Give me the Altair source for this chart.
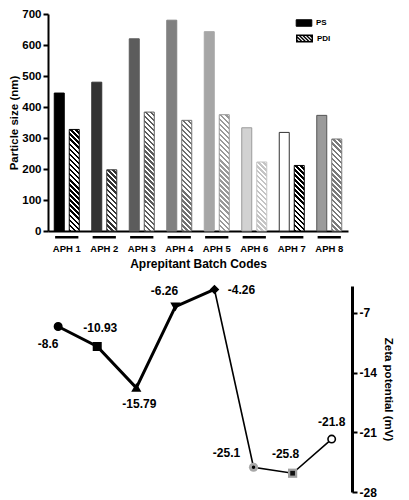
import altair as alt
import pandas as pd

# ---------------- data ----------------
batches = ["APH 1", "APH 2", "APH 3", "APH 4", "APH 5", "APH 6", "APH 7", "APH 8"]
particle_size = [445, 480, 620, 680, 643, 333, 318, 373]
pdi_values = [0.234, 0.141, 0.274, 0.255, 0.268, 0.159, 0.151, 0.212]
zeta_values = [-8.6, -10.93, -15.79, -6.26, -4.26, -25.1, -25.8, -21.8]
series_names = ["PS", "PDI"]

# ---------------- styles ----------------
ps_fill = ["#000000", "#333333", "#5c5c5c", "#808080", "#a6a6a6", "#d2d2d2", "#ffffff", "#9a9a9a"]
ps_stroke = ["#000000", "#333333", "#5c5c5c", "#808080", "#a6a6a6", "#9a9a9a", "#333333", "#555555"]
pdi_ink = ["#000000", "#333333", "#5c5c5c", "#707070", "#999999", "#c4c4c4", "#000000", "#7a7a7a"]

FONT = "Liberation Sans"
TOP_W, TOP_H = 300, 217
BOT_W, BOT_H = 304, 206
BAR_W = 10.0


def hatch(color, w, h, period=5.0):
    """Diagonal '\\' stripes as a linear gradient in bounding-box units."""
    k = (w + h) / (w * w + h * h)
    n = max(2, int(round((w + h) / period)))
    stops = []
    for i in range(n):
        a, b, c = i / n, (i + 0.5) / n, (i + 1) / n
        stops += [
            alt.GradientStop(offset=round(a, 5), color=color),
            alt.GradientStop(offset=round(b, 5), color=color),
            alt.GradientStop(offset=round(b, 5), color="white"),
            alt.GradientStop(offset=round(c, 5), color="white"),
        ]
    return alt.LinearGradient(gradient="linear", x1=0, y1=1,
                              x2=round(k * w, 5), y2=round(1 - k * h, 5), stops=stops)


def hatch_symbol(half_w=1.2, half_h=0.5, step=0.55):
    """Rectangle outline with '\\' diagonal strokes, as a legend symbol path."""
    parts = [f"M{-half_w},{-half_h}H{half_w}V{half_h}H{-half_w}Z"]
    c = -half_w - half_h + step / 2
    while c < half_w + half_h:
        x_a, x_b = c - half_h, c + half_h
        y_a, y_b = -half_h, half_h
        if x_a < -half_w:
            y_a += (-half_w - x_a)
            x_a = -half_w
        if x_b > half_w:
            y_b -= (x_b - half_w)
            x_b = half_w
        if y_b > y_a:
            parts.append(f"M{x_a:.3f},{y_a:.3f}L{x_b:.3f},{y_b:.3f}")
        c += step
    return "".join(parts)


df = pd.DataFrame({"batch": batches, "ps": particle_size, "pdi": pdi_values,
                   "zeta": zeta_values, "idx": list(range(1, len(batches) + 1))})

x_enc = alt.X("batch:N", sort=batches,
              scale=alt.Scale(paddingInner=0, paddingOuter=0),
              axis=alt.Axis(title="Aprepitant Batch Codes", labelAngle=0, ticks=False,
                            labelPadding=12, labelFont=FONT, labelFontSize=9.5,
                            labelFontWeight="bold", titleFont=FONT, titleFontSize=12,
                            titleFontWeight="bold", titlePadding=6, domainWidth=2,
                            domainColor="black", labelColor="black"))
xoff = alt.XOffset("series:N", scale=alt.Scale(domain=series_names,
                                                paddingInner=1 / 3, paddingOuter=5 / 12))

ps_layer = alt.Chart(df).mark_bar(strokeWidth=1).transform_calculate(series='"PS"').encode(
    x=x_enc, xOffset=xoff,
    y=alt.Y("ps:Q", scale=alt.Scale(domain=[0, 700], nice=False),
            axis=alt.Axis(title="Particle size (nm)", values=list(range(0, 701, 100)),
                          grid=False, tickSize=5, tickWidth=2, domainWidth=2,
                          domainColor="black", tickColor="black", labelColor="black",
                          labelFont=FONT, labelFontSize=11.5, labelFontWeight="bold",
                          titleFont=FONT, titleFontSize=11.5, titleFontWeight="bold",
                          titlePadding=2, labelPadding=2)),
    color=alt.Color("batch:N", scale=alt.Scale(domain=batches, range=ps_fill), legend=None),
    stroke=alt.Stroke("batch:N", scale=alt.Scale(domain=batches, range=ps_stroke), legend=None),
)

pdi_layers = []
for i, b in enumerate(batches):
    h = pdi_values[i] / 0.5 * TOP_H
    y_kwargs = dict(scale=alt.Scale(domain=[0, 0.5], nice=False))
    if i == 0:
        y_kwargs["axis"] = alt.Axis(
            title="PDI", orient="right", values=[0, 0.1, 0.2, 0.3, 0.4, 0.5],
            format=".1f", grid=False, tickSize=5, tickWidth=2, domainWidth=2,
            domainColor="black", tickColor="black", labelColor="black",
            labelFont=FONT, labelFontSize=11.5, labelFontWeight="bold",
            titleFont=FONT, titleFontSize=15, titleFontWeight="bold",
            titlePadding=8, labelPadding=2)
    else:
        y_kwargs["axis"] = None
    pdi_layers.append(
        alt.Chart(df).mark_bar(fill=hatch(pdi_ink[i], BAR_W, h), stroke=pdi_ink[i],
                               strokeWidth=1)
        .transform_filter(alt.datum.batch == b)
        .transform_calculate(series='"PDI"')
        .encode(x=alt.X("batch:N", sort=batches), xOffset=xoff,
                y=alt.Y("pdi:Q", **y_kwargs))
    )
pdi_group = alt.layer(*pdi_layers)

underline = alt.Chart(df).mark_bar(color="black", width=alt.RelativeBandSize(0.62)).encode(
    x=alt.X("batch:N", sort=batches),
    y=alt.value(TOP_H + 5), y2=alt.value(TOP_H + 7.5),
)

legend_common = dict(title=None, orient="none", legendX=249,
                     symbolSize=169, labelFont=FONT, labelFontSize=8,
                     labelFontWeight="bold", labelOffset=5, labelColor="black",
                     symbolOpacity=1)
legend_df = pd.DataFrame({"series": series_names})
legend_ps = alt.Chart(legend_df).transform_filter(alt.datum.series == "PS").mark_point(
    filled=True, opacity=0).encode(
    fill=alt.Fill("series:N", scale=alt.Scale(domain=["PS"], range=["black"]),
                  legend=alt.Legend(legendY=2, symbolType="M-1.2,-0.5H1.2V0.5H-1.2Z",
                                    symbolStrokeColor="black", symbolStrokeWidth=1,
                                    **legend_common)))
legend_pdi = alt.Chart(legend_df).transform_filter(alt.datum.series == "PDI").mark_point(
    opacity=0).encode(
    stroke=alt.Stroke("series:N", scale=alt.Scale(domain=["PDI"], range=["black"]),
                      legend=alt.Legend(legendY=17, symbolType=hatch_symbol(),
                                        symbolFillColor="white", symbolStrokeWidth=1.4,
                                        **legend_common)))

top = alt.layer(ps_layer, pdi_group, underline, legend_ps, legend_pdi).resolve_scale(
    y="independent", stroke="independent", fill="independent").properties(
    width=TOP_W, height=TOP_H)

# ---------------- zeta potential ----------------
xz = alt.X("idx:Q", scale=alt.Scale(domain=[0.74, 8.52], nice=False, zero=False), axis=None)
yz = alt.Y("zeta:Q", scale=alt.Scale(domain=[-28, -3.85], nice=False, zero=False),
           axis=alt.Axis(orient="right", title="Zeta potential (mV)",
                         values=[-7, -14, -21, -28], labelExpr="'' + datum.value",
                         grid=False, tickSize=5, tickWidth=2,
                         domainWidth=3, domainColor="black", tickColor="black",
                         labelColor="black", labelFont=FONT, labelFontSize=12,
                         labelFontWeight="bold", titleFont=FONT, titleFontSize=11.5,
                         titleFontWeight="bold", titlePadding=6, labelPadding=2))

base = alt.Chart(df)
thick = base.mark_line(color="black", strokeWidth=3).transform_filter(
    alt.datum.idx <= 5).encode(x=xz, y=yz)
thin = base.mark_line(color="black", strokeWidth=1.6).transform_filter(
    alt.datum.idx >= 5).encode(x=xz, y=yz)

halo_circle = base.mark_point(filled=True, color="#a8a8a8", opacity=1, shape="circle",
                              size=85).transform_filter(alt.datum.idx == 6).encode(x=xz, y=yz)
halo_square = base.mark_point(filled=True, color="#a0a0a0", opacity=1, shape="square",
                              size=85).transform_filter(alt.datum.idx == 7).encode(x=xz, y=yz)
core_circle = base.mark_point(filled=True, color="black", opacity=1, shape="circle",
                              size=12).transform_filter(alt.datum.idx == 6).encode(x=xz, y=yz)
core_square = base.mark_point(filled=True, color="#111111", opacity=1, shape="square",
                              size=22).transform_filter(alt.datum.idx == 7).encode(x=xz, y=yz)

main_pts = [b for i, b in enumerate(batches) if i not in (5, 6)]
markers = base.mark_point(strokeWidth=1.6, opacity=1).transform_filter(
    alt.FieldOneOfPredicate(field="batch", oneOf=main_pts)).encode(
    x=xz, y=yz,
    shape=alt.Shape("batch:N", scale=alt.Scale(
        domain=main_pts,
        range=["circle", "square", "triangle-up", "triangle-down", "diamond", "circle"]),
        legend=None),
    size=alt.Size("batch:N", scale=alt.Scale(
        domain=main_pts, range=[55, 55, 70, 70, 30, 26]), legend=None),
    fill=alt.Fill("batch:N", scale=alt.Scale(
        domain=main_pts, range=["black"] * 5 + ["white"]), legend=None),
    stroke=alt.value("black"),
)

label_offsets = {1: (-10, 17), 2: (3, -18), 3: (3, 16), 4: (-11, -16),
                 5: (27, 1), 6: (-27, -14), 7: (-7, -19), 8: (0, -17)}
labels = []
for i, (dx, dy) in label_offsets.items():
    labels.append(
        base.transform_filter(alt.datum.idx == i)
        .transform_calculate(lbl="'' + datum.zeta")
        .mark_text(dx=dx, dy=dy, font=FONT, fontSize=12, fontWeight="bold", color="black")
        .encode(x=xz, y=yz, text="lbl:N"))

bottom = alt.layer(thick, thin, halo_circle, halo_square, core_circle, core_square,
                   markers, *labels).properties(width=BOT_W, height=BOT_H)

chart = alt.vconcat(top, bottom, spacing=12).resolve_scale(
    fill="independent", stroke="independent", shape="independent", size="independent",
    color="independent").configure_view(stroke=None).properties(
    padding={"left": 0, "top": 0, "right": 2, "bottom": 0})

chart.save("out.html", embed_options={"renderer": "svg", "actions": False})
